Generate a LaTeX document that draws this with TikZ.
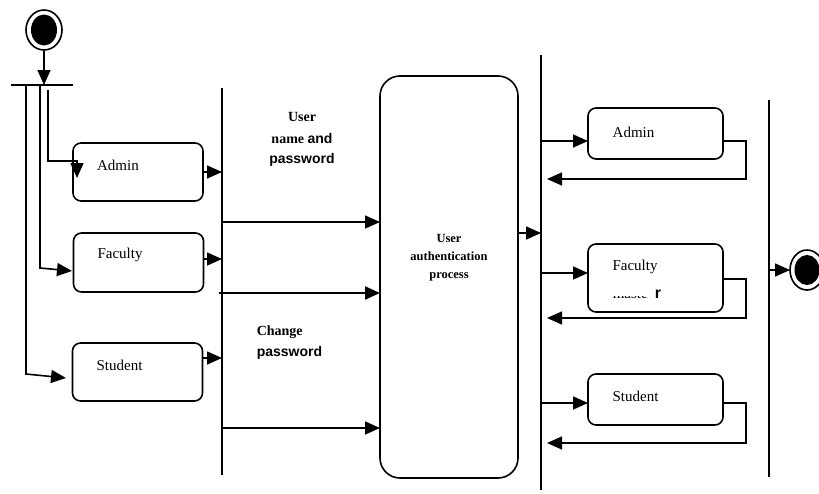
\documentclass[tikz,border=0pt]{standalone}
\usepackage{fontspec}
\setmainfont{Liberation Serif}
\newfontfamily\sansfam{Liberation Sans}
\usetikzlibrary{arrows.meta,shapes.geometric}
\begin{document}
\begin{tikzpicture}[x=1pt,y=-1pt,line width=1.6pt,
  >={Triangle[length=15pt,width=13pt]},
  statebox/.style={draw,rounded corners=8pt,inner sep=0pt,outer sep=0pt,minimum width=130pt},
  rstatebox/.style={draw,rounded corners=8pt,inner sep=0pt,outer sep=0pt,minimum width=135pt},
  boxtxt/.style={inner sep=0pt,font=\fontsize{15}{17}\selectfont},
  lbl/.style={inner sep=0pt,font=\fontsize{14}{16}\selectfont\bfseries}]
\useasboundingbox (0,0) rectangle (819,493);

% start
\node[ellipse,draw,inner sep=0pt,minimum width=36pt,minimum height=40pt] (start) at (44,30) {};
\node[ellipse,fill,inner sep=0pt,minimum width=26pt,minimum height=31pt] (startin) at (start) {};
\coordinate (barL) at (11,85);
\coordinate (barR) at (73,85);
\coordinate (barC) at (44,85);
\draw (barL) -- (barR);
\draw[->] (start.south) -- (barC);

% left boxes
\node[statebox,minimum height=58pt] (la) at (138,172) {};
\node[statebox,minimum height=59pt] (lf) at (138.5,262.5) {};
\node[statebox,minimum height=58pt] (ls) at (137.5,372) {};
\node[boxtxt] (lat) at (118,165) {Admin};
\node[boxtxt] (lft) at (120,255) {Faculty};
\node[boxtxt] (lst) at (119.5,365) {Student};

% branches from bar
\coordinate (bS) at (26,85); \coordinate (bSc) at (26,374); \coordinate (bSe) at (66,378);
\coordinate (bF) at (40,85); \coordinate (bFc) at (40,268); \coordinate (bFe) at (72,271);
\coordinate (bA) at (48,90); \coordinate (bAc) at (48,161); \coordinate (bAd) at (77,161); \coordinate (bAe) at (77,178);
\draw[->] (bS) -- (bSc) -- (bSe);
\draw[->] (bF) -- (bFc) -- (bFe);
\draw[->] (bA) -- (bAc) -- (bAd) -- (bAe);

% first sync line
\coordinate (v1t) at (222,88);
\coordinate (v1b) at (222,475);
\draw (v1t) -- (v1b);
\draw[->] (la.east |- 0,172) -- (v1t |- 0,172);
\draw[->] (lf.east |- 0,259) -- (v1t |- 0,259);
\draw[->] (ls.east |- 0,358) -- (v1t |- 0,358);

% labels
\node[lbl] (u1) at (302,117) {User};
\node[lbl] (u2) at (302,138) {name {\sansfam and}};
\node[lbl,font=\fontsize{14}{16}\selectfont\bfseries\sansfam] (u3) at (302,160) {password};
\node[lbl,anchor=west] (c1) at (256,332) {Change};
\node[lbl,anchor=west,font=\fontsize{14}{16}\selectfont\bfseries\sansfam] (c2) at (256,353) {password};

% authentication box
\node[draw,rounded corners=20pt,inner sep=0pt,outer sep=0pt,minimum width=138pt,minimum height=402pt] (auth) at (449,277) {};
\node[inner sep=0pt,align=center,font=\fontsize{12.5}{18}\selectfont\bfseries] (autht) at (449,258) {User\\authentication\\process};
\draw[->] (v1t |- 0,222) -- (auth.west |- 0,222);
\draw[->,line width=2.1pt] (219,293) -- (auth.west |- 0,293);
\draw[->] (v1t |- 0,428) -- (auth.west |- 0,428);

% second sync line
\coordinate (v2t) at (541,55);
\coordinate (v2b) at (541,490);
\draw (v2t) -- (v2b);
\draw[->] (auth.east |- 0,233) -- (v2t |- 0,233);

% right boxes
\node[rstatebox,minimum height=51pt] (ra) at (655.5,133.5) {};
\node[rstatebox,minimum height=68pt] (rf) at (655.5,278) {};
\node[rstatebox,minimum height=51pt] (rs) at (655.5,399.5) {};
\node[boxtxt] (rat) at (633.5,132) {Admin};
\node[boxtxt] (rft) at (635,267) {Faculty};
\node[boxtxt] (rst) at (635.5,396) {Student};
\begin{scope}
  \clip (605,296) rectangle (652,300);
  \node[boxtxt,anchor=base west] (mast) at (612,298) {maste};
\end{scope}
\node[inner sep=0pt,anchor=base west,font=\fontsize{16}{17}\selectfont\bfseries\sansfam] (mr) at (654,298) {r};

\draw[->] (v2t |- 0,141) -- (ra.west |- 0,141);
\draw[->] (v2t |- 0,273) -- (rf.west |- 0,273);
\draw[->] (v2t |- 0,403) -- (rs.west |- 0,403);
\coordinate (ra1) at (746,141); \coordinate (ra2) at (746,179); \coordinate (ra3) at (547,179);
\coordinate (rf1) at (746,279); \coordinate (rf2) at (746,318); \coordinate (rf3) at (547,318);
\coordinate (rs1) at (746,403); \coordinate (rs2) at (746,443); \coordinate (rs3) at (547,443);
\draw[->] (ra.east |- ra1) -- (ra1) -- (ra2) -- (ra3);
\draw[->] (rf.east |- rf1) -- (rf1) -- (rf2) -- (rf3);
\draw[->] (rs.east |- rs1) -- (rs1) -- (rs2) -- (rs3);

% third sync line and end
\coordinate (v3t) at (769,100);
\coordinate (v3b) at (769,477);
\draw (v3t) -- (v3b);
\node[ellipse,draw,inner sep=0pt,outer sep=0pt,minimum width=34pt,minimum height=40pt] (fin) at (807,270) {};
\node[ellipse,fill,inner sep=0pt,minimum width=25pt,minimum height=30pt] (finin) at (fin) {};
\draw[->] (v3t |- fin.west) -- (fin.west);
\end{tikzpicture}
\end{document}
